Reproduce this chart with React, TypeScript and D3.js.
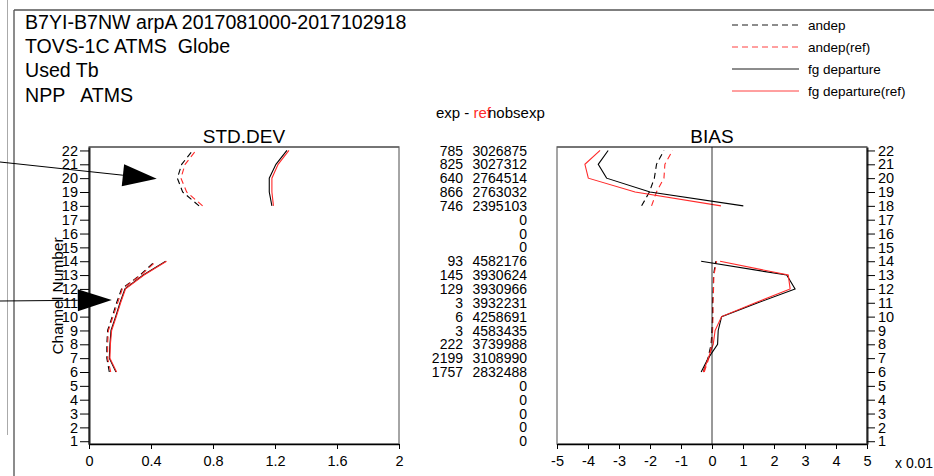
import React, { useEffect, useRef } from "react";
import * as d3 from "d3";

// channel numbers shown on the y axes
const channels = [1, 2, 3, 4, 5, 6, 7, 8, 9, 10, 11, 12, 13, 14, 15, 16, 17, 18, 19, 20, 21, 22];

// STD.DEV, indexed by channel 1..22 (null = no data)
const stdAndep = [null, null, null, null, null, 0.131, 0.115, 0.115, 0.12, 0.15, 0.178, 0.21, 0.33, 0.426, null, null, null, 0.71, 0.604, 0.57, 0.598, 0.669];
const stdAndepRef = [null, null, null, null, null, 0.14, 0.12, 0.12, 0.125, 0.155, 0.185, 0.215, 0.335, 0.435, null, null, null, 0.733, 0.63, 0.593, 0.62, 0.69];
const stdFg = [null, null, null, null, null, 0.174, 0.131, 0.135, 0.142, 0.172, 0.2, 0.232, 0.35, 0.495, null, null, null, 1.18, 1.163, 1.163, 1.206, 1.277];
const stdFgRef = [null, null, null, null, null, 0.178, 0.135, 0.138, 0.146, 0.176, 0.204, 0.236, 0.355, 0.5, null, null, null, 1.19, 1.18, 1.18, 1.22, 1.29];

// BIAS (x 0.01)
const biasAndep = [null, null, null, null, null, -0.28, -0.13, -0.03, 0.0, 0.02, 0.02, 0.04, 0.05, 0.12, null, null, null, -2.27, -2.02, -1.86, -1.79, -1.55];
const biasAndepRef = [null, null, null, null, null, -0.25, -0.1, -0.01, 0.02, 0.03, 0.03, 0.05, 0.06, 0.15, null, null, null, -1.95, -1.79, -1.55, -1.52, -1.27];
const biasFg = [null, null, null, null, null, -0.35, -0.12, 0.18, 0.2, 0.31, 1.48, 2.68, 2.41, -0.35, null, null, null, 1.01, -2.0, -3.4, -3.67, -3.35];
const biasFgRef = [null, null, null, null, null, -0.28, -0.12, 0.04, 0.1, 0.31, 1.4, 2.52, 2.46, 0.26, null, null, null, 0.29, -2.48, -3.99, -4.1, -3.61];

// middle columns: exp - ref, nobsexp
const nobsDiff = [null, null, null, null, null, 1757, 2199, 222, 3, 6, 3, 129, 145, 93, null, null, null, 746, 866, 640, 825, 785];
const nobsExp = [0, 0, 0, 0, 0, 2832488, 3108990, 3739988, 4583435, 4258691, 3932231, 3930966, 3930624, 4582176, 0, 0, 0, 2395103, 2763032, 2764514, 3027312, 3026875];

const stdTicks = [0, 0.4, 0.8, 1.2, 1.6, 2];
const biasTicks = [-5, -4, -3, -2, -1, 0, 1, 2, 3, 4, 5];

const titleLines = ["B7YI-B7NW arpA 2017081000-2017102918", "TOVS-1C ATMS  Globe", "Used Tb", "NPP   ATMS"];

const series = [
  { name: "andep", color: "#000", dash: "6,4" },
  { name: "andep(ref)", color: "#ff2a2a", dash: "6,4" },
  { name: "fg departure", color: "#000", dash: null },
  { name: "fg departure(ref)", color: "#ff2a2a", dash: null },
];

// arrow annotations, tips in STD.DEV data units
const arrows = [
  { fromY: 162, value: 0.437, channel: 19.95 },
  { fromY: 301, value: 0.147, channel: 11.2 },
];

const font = "'Liberation Sans', Arial, Helvetica, sans-serif";

const App = () => {
  const ref = useRef(null);

  useEffect(() => {
    const svg = d3.select(ref.current);
    svg.selectAll("*").remove();

    const y = d3.scaleLinear().domain([0.8, 22.25]).range([444, 147]);
    const xStd = d3.scaleLinear().domain([0, 2]).range([89, 399]);
    const xBias = d3.scaleLinear().domain([-5, 5]).range([557, 867]);

    // outer frame
    svg.append("line").attr("x1", 7.5).attr("x2", 7.5).attr("y1", 0).attr("y2", 435).attr("stroke", "#aaa");
    svg.append("line").attr("x1", 14).attr("x2", 14).attr("y1", 10).attr("y2", 476).attr("stroke", "#666").attr("stroke-width", 1.5);
    svg.append("line").attr("x1", 14).attr("x2", 934).attr("y1", 10).attr("y2", 10).attr("stroke", "#555").attr("stroke-width", 1.5);

    // titles
    svg.selectAll(".title")
      .data(titleLines)
      .enter()
      .append("text")
      .attr("x", 25)
      .attr("y", (d, i) => 29 + i * 24.2)
      .attr("font-size", 19.6)
      .attr("xml:space", "preserve")
      .style("white-space", "pre")
      .text((d) => d);

    // legend
    const lg = svg.append("g");
    series.forEach((s, i) => {
      const ly = 25 + i * 22;
      lg.append("line").attr("x1", 732).attr("x2", 799).attr("y1", ly).attr("y2", ly)
        .attr("stroke", s.color).attr("stroke-width", 0.9)
        .attr("stroke-dasharray", s.dash);
      lg.append("text").attr("x", 808).attr("y", ly + 5).attr("font-size", 13.5).text(s.name);
    });

    // header for middle columns
    const hdr = svg.append("text").attr("x", 436).attr("y", 118).attr("font-size", 15);
    hdr.append("tspan").text("exp - ");
    hdr.append("tspan").attr("fill", "#ff2a2a").text("ref");
    hdr.append("tspan").attr("dx", -3).text("nobsexp");

    // middle columns
    const mid = svg.append("g").attr("font-size", 14).attr("text-anchor", "end");
    channels.forEach((c, i) => {
      if (nobsDiff[i] != null) {
        mid.append("text").attr("x", 463).attr("y", y(c)).attr("dy", "0.36em").text(nobsDiff[i]);
      }
      mid.append("text").attr("x", 527).attr("y", y(c)).attr("dy", "0.36em").text(nobsExp[i]);
    });

    const drawPanel = (x, title, ticks, data, yAxisSide) => {
      const [x0, x1] = x.range();
      const g = svg.append("g");

      g.append("rect").attr("x", x0).attr("y", 147).attr("width", x1 - x0).attr("height", 297)
        .attr("fill", "none").attr("stroke", "#888").attr("stroke-width", 1.5);
      g.append("line").attr("x1", x0).attr("x2", x1).attr("y1", 147).attr("y2", 147).attr("stroke", "#444");

      g.append("text").attr("x", (x0 + x1) / 2).attr("y", 143).attr("text-anchor", "middle")
        .attr("font-size", 19).text(title);

      const xAxis = g.append("g").attr("transform", "translate(0,444)")
        .call(d3.axisBottom(x).tickValues(ticks).tickSize(5).tickSizeOuter(0).tickPadding(7).tickFormat((d) => String(d)));
      xAxis.selectAll("text").attr("font-size", 14.5).attr("font-family", font).attr("fill", "#000");
      xAxis.select(".domain").attr("stroke-width", 1.5);

      const yAxis = yAxisSide === "left"
        ? d3.axisLeft(y).tickValues(channels).tickSize(9).tickSizeOuter(0).tickPadding(2)
        : d3.axisRight(y).tickValues(channels).tickSize(8).tickSizeOuter(0).tickPadding(3);
      const ya = g.append("g").attr("transform", `translate(${yAxisSide === "left" ? x0 : x1},0)`).call(yAxis);
      ya.selectAll("text").attr("font-size", 14.5).attr("font-family", font).attr("fill", "#000");
      ya.select(".domain").attr("stroke-width", 2).attr("stroke", "#222");

      const line = d3.line()
        .defined((d) => d[1] != null)
        .x((d) => x(d[1]))
        .y((d) => y(d[0]));

      data.forEach((vals, i) => {
        const s = series[i];
        g.append("path")
          .datum(channels.map((c, k) => [c, vals[k]]))
          .attr("d", line)
          .attr("fill", "none")
          .attr("stroke", s.color)
          .attr("stroke-width", 1.1)
          .attr("stroke-dasharray", s.dash);
      });
      return g;
    };

    drawPanel(xStd, "STD.DEV", stdTicks, [stdAndep, stdAndepRef, stdFg, stdFgRef], "left");
    const bias = drawPanel(xBias, "BIAS", biasTicks, [biasAndep, biasAndepRef, biasFg, biasFgRef], "right");

    // zero line
    bias.append("line").attr("x1", xBias(0)).attr("x2", xBias(0)).attr("y1", 147).attr("y2", 444)
      .attr("stroke", "#000").attr("stroke-width", 0.8);

    svg.append("text").attr("x", 895).attr("y", 468).attr("font-size", 14).text("x 0.01");

    // y label
    svg.append("text")
      .attr("transform", "translate(63,296) rotate(-90)")
      .attr("text-anchor", "middle")
      .attr("font-size", 15.5)
      .text("Channel Number");

    // arrows
    arrows.forEach((a) => {
      const tx = xStd(a.value);
      const ty = y(a.channel);
      const ang = Math.atan2(ty - a.fromY, tx);
      const len = 34;
      const half = 11;
      const bx = tx - len * Math.cos(ang);
      const by = ty - len * Math.sin(ang);
      svg.append("line").attr("x1", 0).attr("y1", a.fromY).attr("x2", bx).attr("y2", by)
        .attr("stroke", "#000").attr("stroke-width", 1);
      svg.append("path")
        .attr("d", `M${tx},${ty}L${bx + half * Math.sin(ang)},${by - half * Math.cos(ang)}L${bx - half * Math.sin(ang)},${by + half * Math.cos(ang)}Z`)
        .attr("fill", "#000");
    });
  }, []);

  return (
    <svg
      ref={ref}
      width={934}
      height={476}
      style={{ position: "absolute", left: 0, top: 0, fontFamily: font, background: "#fff" }}
    ></svg>
  );
};

export default App;
